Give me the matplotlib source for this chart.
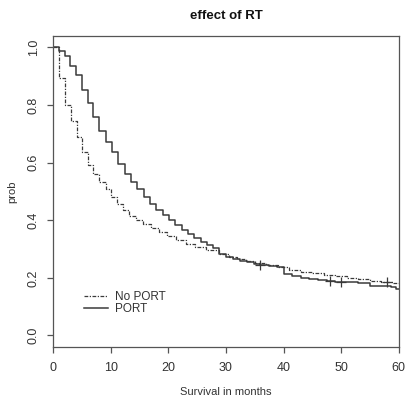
import matplotlib
matplotlib.use("Agg")
import matplotlib.pyplot as plt

# ---- Kaplan-Meier step data ----
port_t = [0, 1.0, 2.0, 3.0, 4.0, 5.0, 6.0, 7.0, 8.0, 9.1, 10.2, 11.3, 12.4,
          13.5, 14.6, 15.7, 16.8, 17.9, 19.0, 20.1, 21.2, 22.3, 23.4, 24.5,
          25.6, 26.7, 27.8, 28.8, 30.0, 31.2, 32.4, 33.6, 34.8, 36.0, 37.5,
          38.8, 40.0, 41.5, 43.0, 44.5, 46.0, 47.5, 49.0, 51.0, 53.0, 55.0,
          57.0, 58.6, 59.5]
port_s = [1.0, 0.988, 0.969, 0.935, 0.903, 0.853, 0.807, 0.758, 0.711, 0.672,
          0.635, 0.596, 0.562, 0.532, 0.507, 0.482, 0.458, 0.436, 0.418, 0.400,
          0.383, 0.366, 0.352, 0.338, 0.325, 0.314, 0.304, 0.282, 0.274, 0.267,
          0.260, 0.254, 0.249, 0.245, 0.240, 0.236, 0.212, 0.205, 0.200, 0.196,
          0.192, 0.188, 0.186, 0.184, 0.182, 0.173, 0.170, 0.167, 0.163]

noport_t = [0, 1.0, 2.0, 3.1, 4.1, 5.0, 6.0, 7.0, 8.0, 9.1, 10.1, 11.0, 12.2,
            13.2, 14.4, 15.6, 17.0, 18.3, 19.8, 21.3, 23.0, 24.7, 26.5, 28.8,
            30.5, 32.0, 33.5, 35.0, 37.0, 39.0, 41.0, 43.0, 45.0, 47.0, 49.0,
            51.0, 53.0, 55.0, 57.0, 59.0]
noport_s = [1.0, 0.892, 0.800, 0.746, 0.688, 0.635, 0.591, 0.559, 0.533, 0.507,
            0.481, 0.455, 0.435, 0.416, 0.402, 0.388, 0.373, 0.358, 0.344, 0.332,
            0.318, 0.307, 0.296, 0.284, 0.274, 0.265, 0.258, 0.250, 0.243, 0.236,
            0.228, 0.222, 0.216, 0.210, 0.205, 0.200, 0.195, 0.190, 0.186, 0.182]

# censoring marks
port_cens = [36.0, 48.0, 50.0]
noport_cens = [58.0]

x_end = 60

INK = "#3a3a3a"
plt.rcParams["font.family"] = ["Liberation Sans", "DejaVu Sans"]

fig = plt.figure(figsize=(4.06, 4.0), dpi=100)
ax = fig.add_axes([0.131, 0.1325, 0.851, 0.778])


def surv_at(ts, ss, t):
    v = ss[0]
    for ti, si in zip(ts, ss):
        if ti <= t:
            v = si
    return v


ax.step(noport_t + [x_end], noport_s + [noport_s[-1]], where="post",
        color=INK, lw=0.9, dashes=(3, 1.2, 1, 1.2), label="No PORT")
ax.step(port_t + [x_end], port_s + [port_s[-1]], where="post",
        color=INK, lw=1.1, label="PORT")

ax.plot(port_cens, [surv_at(port_t, port_s, c) for c in port_cens],
        ls="none", marker="+", ms=7, mew=0.9, color=INK)
ax.plot(noport_cens, [surv_at(noport_t, noport_s, c) for c in noport_cens],
        ls="none", marker="+", ms=7, mew=0.9, color=INK)

ax.set_xlim(0, 60)
ax.set_ylim(-0.04, 1.04)
ax.set_xticks([0, 10, 20, 30, 40, 50, 60])
ax.set_yticks([0.0, 0.2, 0.4, 0.6, 0.8, 1.0])
ax.set_yticklabels(["0.0", "0.2", "0.4", "0.6", "0.8", "1.0"])

for sp in ax.spines.values():
    sp.set_color("#555555")
    sp.set_linewidth(0.9)
ax.tick_params(length=4.5, width=0.9, color="#555555", labelsize=9,
               labelcolor="#333333", pad=6)
ax.tick_params(axis="y", labelrotation=90, pad=5)
for lab in ax.get_yticklabels():
    lab.set_va("center")

ax.set_xlabel("Survival in months", fontsize=8, color="#333333", labelpad=10)
ax.set_ylabel("prob", fontsize=8, color="#333333", labelpad=8)
ax.set_title("effect of RT", fontsize=9.5, fontweight="bold", color="#111111",
             pad=12)

ax.legend(frameon=False, loc="upper left", bbox_to_anchor=(0.065, 0.205),
          fontsize=8.5, handlelength=2.0, handletextpad=0.6, labelspacing=0.0,
          borderpad=0.2, labelcolor="#333333")

fig.savefig("out.png", dpi=100, facecolor="white")
